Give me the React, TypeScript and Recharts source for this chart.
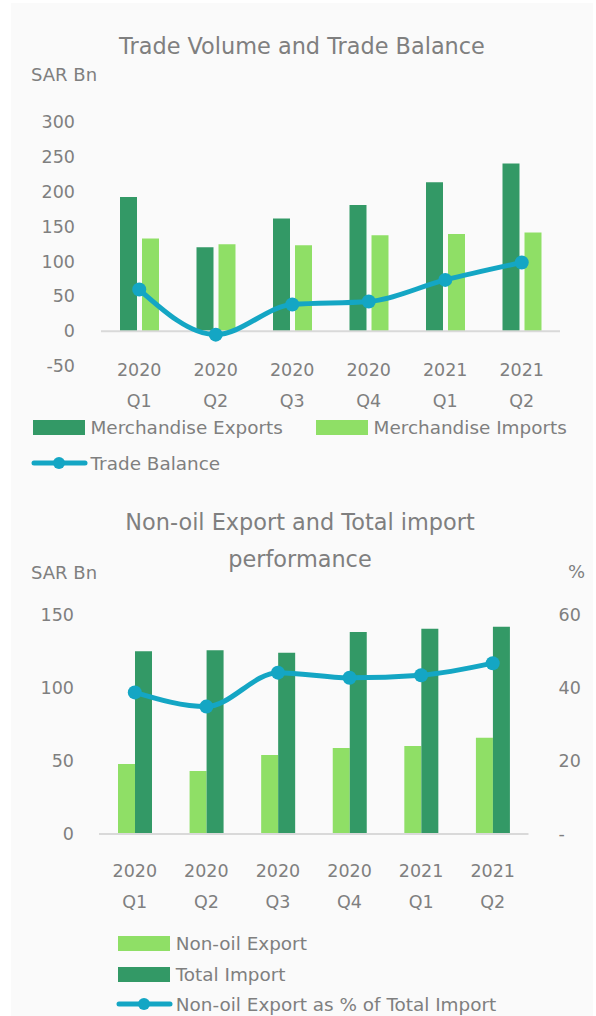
import React from "react";
import { Bar, ComposedChart, Legend, Line, ReferenceLine, XAxis, YAxis } from "recharts";

// quarterly values, SAR Bn
const quarters = ["2020 Q1", "2020 Q2", "2020 Q3", "2020 Q4", "2021 Q1", "2021 Q2"];
const merchandiseExports = [192.5, 120.4, 161.5, 181, 213.6, 240.4];
const merchandiseImports = [132.8, 124.7, 123.3, 137.6, 139.5, 141.4];
const tradeBalance = [59.7, -5, 38.2, 42.5, 73.5, 98.5];

const nonOilExport = [47.9, 43.2, 54.1, 58.9, 60.3, 66];
const totalImport = [125.1, 125.8, 124.2, 138.4, 140.6, 142];
const nonOilShare = [38.8, 34.9, 44.2, 42.8, 43.5, 46.8];

const tradeTicks = [-50, 0, 50, 100, 150, 200, 250, 300];
const valueTicks = [0, 50, 100, 150];
const shareTicks = [0, 20, 40, 60];

const DARK = "#339966";
const LIGHT = "#8fdf66";
const TEAL = "#14a6c4";
const GREY = "#7f7f7f";
const FONT = "'DejaVu Sans', sans-serif";

const tradeRows = quarters.map((q, i) => ({
  quarter: q,
  exports: merchandiseExports[i],
  imports: merchandiseImports[i],
  balance: tradeBalance[i],
}));

const nonOilRows = quarters.map((q, i) => ({
  quarter: q,
  nonOil: nonOilExport[i],
  totalImport: totalImport[i],
  share: nonOilShare[i],
}));

const tickFont = { fill: GREY, fontSize: 17.5, fontFamily: FONT };

// two-line category label: year on top, quarter below
const QuarterTick = (props: any) => {
  const { x, y, payload, offset } = props;
  const [year, q] = String(payload.value).split(" ");
  return (
    <text x={x} y={y + offset} textAnchor="middle" {...tickFont}>
      <tspan x={x} dy="0.35em">{year}</tspan>
      <tspan x={x} dy={31}>{q}</tspan>
    </text>
  );
};

type Spot = { x: number; y: number };

const makeLegend = (spots: Record<string, Spot>) => (props: any) => {
  const items = props.payload || [];
  return (
    <div style={{ position: "relative", width: 596, height: 0 }}>
      {items.map((it: any) => {
        const s = spots[it.dataKey];
        if (!s) return null;
        const isLine = it.type === "line";
        return (
          <div
            key={it.dataKey}
            style={{
              position: "absolute",
              left: s.x,
              top: s.y - 12,
              height: 24,
              display: "flex",
              alignItems: "center",
              whiteSpace: "nowrap",
              color: GREY,
              fontSize: 18.4,
              fontFamily: FONT,
            }}
          >
            {isLine ? (
              <svg width={57} height={14} style={{ marginRight: 3 }}>
                <line x1={3} x2={54} y1={7} y2={7} stroke={it.color} strokeWidth={5} strokeLinecap="round" />
                <circle cx={28} cy={7} r={6} fill={it.color} />
              </svg>
            ) : (
              <svg width={52} height={15} style={{ marginRight: 6 }}>
                <rect width={52} height={15} fill={it.color} />
              </svg>
            )}
            <span>{it.value}</span>
          </div>
        );
      })}
    </div>
  );
};

const label = (style: React.CSSProperties, text: string) => (
  <div
    style={{
      position: "absolute",
      color: GREY,
      fontFamily: FONT,
      fontSize: 18,
      lineHeight: "24px",
      whiteSpace: "nowrap",
      ...style,
    }}
  >
    {text}
  </div>
);

function App() {
  return (
    <div style={{ position: "absolute", left: 0, top: 0, width: 596, height: 1016, background: "#fff" }}>
      <div style={{ position: "absolute", left: 11, top: 3, width: 582, height: 1013, background: "#fafafa" }} />

      {label({ left: 0, top: 34, width: 604, textAlign: "center", fontSize: 22.4 }, "Trade Volume and Trade Balance")}
      {label({ left: 31, top: 63 }, "SAR Bn")}

      <div style={{ position: "absolute", left: 0, top: 0 }}>
        <ComposedChart
          width={596}
          height={480}
          data={tradeRows}
          margin={{ top: 122, right: 36, left: 0, bottom: 54 }}
          barSize={17}
          barGap={5}
        >
          <XAxis
            dataKey="quarter"
            height={60}
            axisLine={false}
            tickLine={false}
            tickSize={0}
            tickMargin={0}
            interval={0}
            tick={<QuarterTick offset={3.5} />}
          />
          <YAxis
            width={101}
            domain={[-50, 300]}
            ticks={tradeTicks}
            interval={0}
            axisLine={false}
            tickLine={false}
            tickSize={0}
            tickMargin={26}
            tick={tickFont}
          />
          <ReferenceLine y={0} stroke="#d9d9d9" strokeWidth={2} />
          <Bar dataKey="exports" name="Merchandise Exports" fill={DARK} isAnimationActive={false} />
          <Bar dataKey="imports" name="Merchandise Imports" fill={LIGHT} isAnimationActive={false} />
          <Line
            dataKey="balance"
            name="Trade Balance"
            type="monotone"
            stroke={TEAL}
            strokeWidth={5}
            dot={{ r: 7, fill: TEAL, stroke: TEAL, strokeWidth: 0 }}
            activeDot={false}
            isAnimationActive={false}
          />
          <Legend
            layout="horizontal"
            verticalAlign="middle"
            align="center"
            wrapperStyle={{ left: 0, top: 0, width: 596, height: 0 }}
            content={makeLegend({
              exports: { x: 32.5, y: 427 },
              imports: { x: 315.6, y: 427 },
              balance: { x: 30.6, y: 463 },
            })}
          />
        </ComposedChart>
      </div>

      <div
        style={{
          position: "absolute",
          left: 0,
          top: 504,
          width: 600,
          textAlign: "center",
          color: GREY,
          fontFamily: FONT,
          fontSize: 22.4,
          lineHeight: "37px",
        }}
      >
        Non-oil Export and Total import
        <br />
        performance
      </div>
      {label({ left: 31, top: 561 }, "SAR Bn")}
      {label({ left: 568, top: 560 }, "%")}

      <div style={{ position: "absolute", left: 0, top: 490 }}>
        <ComposedChart
          width={596}
          height={526}
          data={nonOilRows}
          margin={{ top: 125, right: 0, left: 0, bottom: 102 }}
          barSize={17}
          barGap={0}
        >
          <XAxis
            dataKey="quarter"
            height={80}
            axisLine={{ stroke: "#d9d9d9", strokeWidth: 2 }}
            tickLine={false}
            tickSize={0}
            tickMargin={0}
            interval={0}
            tick={<QuarterTick offset={36.7} />}
          />
          <YAxis
            yAxisId="left"
            width={99}
            domain={[0, 150]}
            ticks={valueTicks}
            interval={0}
            axisLine={false}
            tickLine={false}
            tickSize={0}
            tickMargin={25}
            tick={tickFont}
          />
          <YAxis
            yAxisId="right"
            orientation="right"
            width={67.5}
            domain={[0, 60]}
            ticks={shareTicks}
            interval={0}
            axisLine={false}
            tickLine={false}
            tickSize={0}
            tickMargin={30}
            tick={tickFont}
            tickFormatter={(v: number) => (v === 0 ? "-" : String(v))}
          />
          <Bar yAxisId="left" dataKey="nonOil" name="Non-oil Export" fill={LIGHT} isAnimationActive={false} />
          <Bar yAxisId="left" dataKey="totalImport" name="Total Import" fill={DARK} isAnimationActive={false} />
          <Line
            yAxisId="right"
            dataKey="share"
            name="Non-oil Export as % of Total Import"
            type="monotone"
            stroke={TEAL}
            strokeWidth={5}
            dot={{ r: 7, fill: TEAL, stroke: TEAL, strokeWidth: 0 }}
            activeDot={false}
            isAnimationActive={false}
          />
          <Legend
            layout="horizontal"
            verticalAlign="middle"
            align="center"
            wrapperStyle={{ left: 0, top: 0, width: 596, height: 0 }}
            content={makeLegend({
              nonOil: { x: 117.7, y: 453 },
              totalImport: { x: 117.7, y: 484 },
              share: { x: 115.8, y: 514 },
            })}
          />
        </ComposedChart>
      </div>
    </div>
  );
}

export default App;
